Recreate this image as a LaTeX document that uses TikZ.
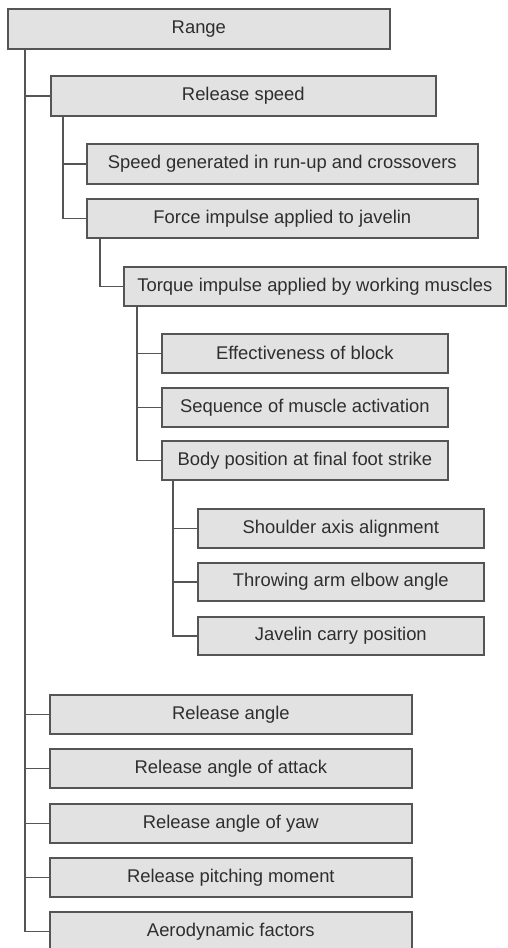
\documentclass[tikz,border=0pt]{standalone}
\usepackage{fontspec}
\setmainfont{Liberation Sans}
\definecolor{boxfill}{HTML}{E2E2E2}
\definecolor{boxline}{HTML}{555555}
\definecolor{txt}{HTML}{2E2E2E}
\begin{document}
\begin{tikzpicture}[x=1pt,y=-1pt,
  box/.style={draw=boxline, fill=boxfill, line width=1.7pt, anchor=north west,
    inner sep=0pt, text=txt, font=\fontsize{18.4}{22}\selectfont, minimum height=39pt},
  conn/.style={draw=boxline, line width=1.6pt}]
\useasboundingbox (0,0) rectangle (507,948);
\fill[white] (0,0) rectangle (507,948);
\node[box, minimum width=382pt, minimum height=40pt] (range) at (7,8) {Range};
\node[box, minimum width=385pt, minimum height=40pt] (rspeed) at (50,75) {Release speed};
\node[box, minimum width=391pt, minimum height=40pt] (speed) at (86,143) {Speed generated in run-up and crossovers};
\node[box, minimum width=391pt] (force) at (86,198) {Force impulse applied to javelin};
\node[box, minimum width=382pt] (torque) at (123,266) {Torque impulse applied by working muscles};
\node[box, minimum width=286pt] (eff) at (161,333) {Effectiveness of block};
\node[box, minimum width=286pt] (seq) at (161,387) {Sequence of muscle activation};
\node[box, minimum width=286pt] (body) at (161,440) {Body position at final foot strike};
\node[box, minimum width=286pt] (shoulder) at (197,508) {Shoulder axis alignment};
\node[box, minimum width=286pt, minimum height=38pt] (throw) at (197,562) {Throwing arm elbow angle};
\node[box, minimum width=286pt, minimum height=38pt] (jav) at (197,616) {Javelin carry position};
\node[box, minimum width=362pt] (rangle) at (49,694) {Release angle};
\node[box, minimum width=362pt] (attack) at (49,748) {Release angle of attack};
\node[box, minimum width=362pt] (yaw) at (49,803) {Release angle of yaw};
\node[box, minimum width=362pt] (pitch) at (49,857) {Release pitching moment};
\node[box, minimum width=362pt] (aero) at (49,911) {Aerodynamic factors};
% trunk coordinates
\coordinate (t0) at (25,48);
\coordinate (t1) at (63,115);
\coordinate (t2) at (100,237);
\coordinate (t3) at (137,305);
\coordinate (t4) at (173,479);
\foreach \c in {rspeed,rangle,attack,yaw,pitch,aero} \draw[conn] (t0) |- (\c.west);
\foreach \c in {speed,force} \draw[conn] (t1) |- (\c.west);
\draw[conn] (t2) |- (torque.west);
\foreach \c in {eff,seq,body} \draw[conn] (t3) |- (\c.west);
\foreach \c in {shoulder,throw,jav} \draw[conn] (t4) |- (\c.west);
\end{tikzpicture}
\end{document}
